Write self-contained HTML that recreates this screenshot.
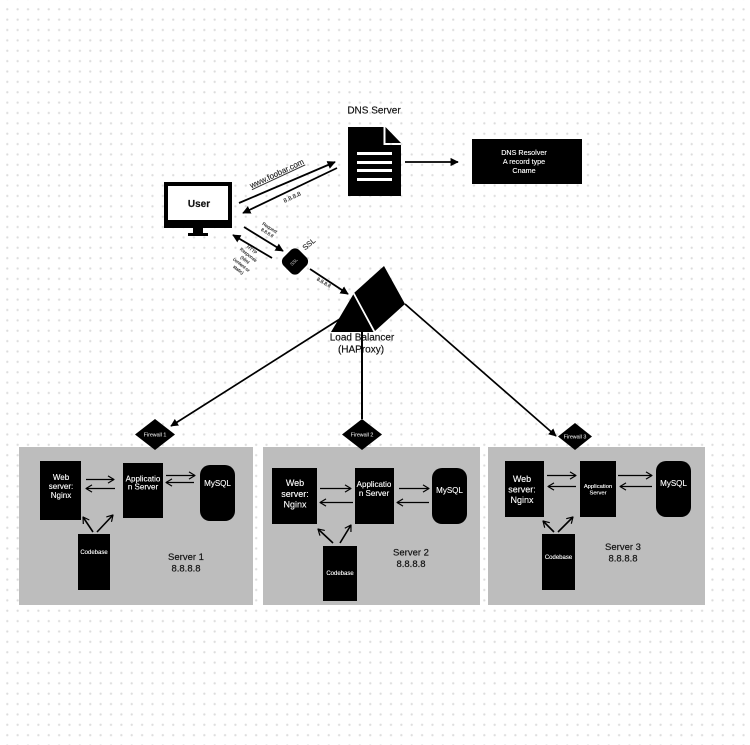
<!DOCTYPE html>
<html><head><meta charset="utf-8"><style>
html,body{margin:0;padding:0;background:#fff;width:750px;height:745px;overflow:hidden}
svg{display:block}
text{font-family:"Liberation Sans",sans-serif;text-anchor:middle}
g[fill="#111"],text[fill="#111"]{stroke:#111;stroke-width:.18}
g[fill="#222"],text[fill="#222"]{stroke:#222;stroke-width:.12}
g[fill="#fff"],text[fill="#fff"]{stroke:#fff;stroke-width:.12}
g[fill="#ddd"]{stroke:#ddd;stroke-width:.1}
</style></head><body>
<svg width="750" height="745" viewBox="0 0 750 745" xmlns="http://www.w3.org/2000/svg">
<defs>
<radialGradient id="g"><stop offset="0" stop-color="#d8d8d8"/><stop offset=".55" stop-color="#e2e2e2"/><stop offset="1" stop-color="#fff" stop-opacity="0"/></radialGradient>
<pattern id="d" x="2.1" y="4.1" width="10.37" height="10.37" patternUnits="userSpaceOnUse"><circle cx="5.18" cy="5.18" r="1.7" fill="url(#g)"/></pattern>
<marker id="a" viewBox="0 0 10 10" refX="9" refY="5" markerWidth="4.6" markerHeight="4.6" orient="auto-start-reverse"><path d="M0 0L10 5L0 10Z" fill="#000"/></marker>
<marker id="o" viewBox="0 0 10 10" refX="9.5" refY="5" markerWidth="8" markerHeight="8" orient="auto" markerUnits="userSpaceOnUse"><path d="M2 .5L9.500 5L2 9.500" fill="none" stroke="#000" stroke-width="1.500"/></marker>
</defs>
<rect width="750" height="745" fill="#fff"/><rect width="750" height="745" fill="url(#d)"/>

<rect x="19" y="447" width="234" height="158" fill="#bdbdbd"/>
<rect x="263" y="447" width="217" height="158" fill="#bdbdbd"/>
<rect x="488" y="447" width="217" height="158" fill="#bdbdbd"/>

<text x="374" y="113.500" font-size="10" fill="#111">DNS Server</text>
<path d="M348 127H383.500V145H401V196H348Z" fill="#000"/><path d="M385.500 127L401 143H385.500Z" fill="#000"/>
<rect x="357" y="152" width="35" height="3" fill="#fff"/><rect x="357" y="161" width="35" height="3" fill="#fff"/><rect x="357" y="169" width="35" height="3" fill="#fff"/><rect x="357" y="178" width="35" height="3" fill="#fff"/>
<rect x="472" y="139" width="110" height="45" fill="#000"/>
<g fill="#fff" font-size="7.200"><text x="524" y="155">DNS Resolver</text><text x="524" y="164">A record type</text><text x="524" y="173">Cname</text></g>
<line x1="405" y1="162" x2="458" y2="162" stroke="#000" stroke-width="1.800" marker-end="url(#a)"/>

<rect x="164" y="182" width="68" height="46" fill="#000"/><rect x="168" y="186" width="60" height="34" fill="#fff"/>
<rect x="193" y="228" width="10" height="5" fill="#000"/><rect x="188" y="233" width="20" height="3" fill="#000"/>
<text x="199" y="207" font-size="10" font-weight="bold" fill="#111">User</text>

<line x1="239" y1="203" x2="335" y2="162" stroke="#000" stroke-width="1.800" marker-end="url(#a)"/>
<line x1="337" y1="168" x2="243" y2="213" stroke="#000" stroke-width="1.800" marker-end="url(#a)"/>
<text transform="translate(278 176) rotate(-25)" font-size="8" fill="#222" text-decoration="underline">www.foobar.com</text>
<text transform="translate(293 199) rotate(-25)" font-size="6" fill="#222">8.8.8.8</text>

<line x1="244" y1="227" x2="283" y2="251" stroke="#000" stroke-width="1.800" marker-end="url(#a)"/>
<line x1="272" y1="258" x2="233" y2="235" stroke="#000" stroke-width="1.800" marker-end="url(#a)"/>
<g font-size="4.500" fill="#222">
<text transform="translate(269 229) rotate(32)">Request</text><text transform="translate(266.500 234) rotate(32)">8.8.8.8</text>
<text transform="translate(251 251) rotate(38)">HTTP</text><text transform="translate(247.500 256) rotate(38)">Response</text><text transform="translate(244 261) rotate(38)">(html</text><text transform="translate(240.500 266) rotate(38)">content or</text><text transform="translate(237.500 271) rotate(38)">static)</text>
</g>
<rect x="284" y="250.500" width="22" height="22" rx="6" transform="rotate(45 295 261.500)" fill="#000"/>
<text transform="translate(295 263) rotate(-45)" font-size="4.500" fill="#ddd">SSL</text>
<text transform="translate(310.500 246) rotate(-40)" font-size="7.500" fill="#222">SSL</text>
<line x1="310" y1="269" x2="348" y2="294" stroke="#000" stroke-width="1.800" marker-end="url(#a)"/>
<text transform="translate(323 284) rotate(30)" font-size="5" fill="#222">8.8.8.8</text>

<path d="M353.500 294L331 332H374Z" fill="#000"/>
<path d="M354 293L384 266L405 304L375 331Z" fill="#000"/>
<line x1="353.500" y1="293" x2="374.500" y2="332" stroke="#fff" stroke-width="1.800"/>
<line x1="343" y1="317" x2="171" y2="426" stroke="#000" stroke-width="1.700" marker-end="url(#a)"/>
<g font-size="10" fill="#111"><text x="362" y="340.500">Load Balancer</text><text x="361" y="352.500">(HAProxy)</text></g>
<line x1="362" y1="332" x2="362" y2="419" stroke="#000" stroke-width="2"/>
<line x1="405" y1="304" x2="556" y2="436" stroke="#000" stroke-width="1.700" marker-end="url(#a)"/>

<path d="M155 419L175 434.500L155 450L135 434.500Z" fill="#000"/>
<path d="M362 419L382 434.500L362 450L342 434.500Z" fill="#000"/>
<path d="M575 423L592 436.500L575 450L558 436.500Z" fill="#000"/>
<g font-size="5.300" fill="#ddd"><text x="155" y="436.500">Firewall 1</text><text x="362" y="436.500">Firewall 2</text><text x="575" y="438.500">Firewall 3</text></g>

<!-- Server 1 -->
<rect x="40" y="461" width="41" height="59" fill="#000"/><rect x="123" y="463" width="40" height="55" fill="#000"/><rect x="200" y="465" width="35" height="56" rx="10" fill="#000"/><rect x="78" y="534" width="32" height="56" fill="#000"/>
<g fill="#fff" font-size="8"><text x="61" y="480">Web</text><text x="61" y="489">server:</text><text x="61" y="498">Nginx</text><text x="143" y="481.500">Applicatio</text><text x="143" y="489.500">n Server</text><text x="217.500" y="486">MySQL</text></g>
<text x="94" y="554" font-size="6" fill="#fff">Codebase</text>
<g fill="#111" font-size="9.500"><text x="186" y="560">Server 1</text><text x="186" y="571.500">8.8.8.8</text></g>
<g stroke="#000" stroke-width="1.200" fill="none" marker-end="url(#o)"><line x1="86" y1="479.500" x2="114" y2="479.500"/><line x1="115" y1="488.500" x2="86" y2="488.500"/><line x1="166" y1="475.500" x2="195" y2="475.500"/><line x1="194" y1="482.500" x2="166" y2="482.500"/></g>
<g stroke="#000" stroke-width="1.600" fill="none" marker-end="url(#o)"><line x1="93" y1="532" x2="83" y2="517"/><line x1="97" y1="532" x2="113" y2="515"/></g>

<!-- Server 2 -->
<rect x="272" y="468" width="45" height="56" fill="#000"/><rect x="355" y="468" width="39" height="56" fill="#000"/><rect x="432" y="468" width="35" height="56" rx="10" fill="#000"/><rect x="323" y="546" width="34" height="55" fill="#000"/>
<g fill="#fff"><g font-size="9"><text x="295" y="486">Web</text><text x="295" y="497">server:</text><text x="295" y="507.500">Nginx</text></g><g font-size="8"><text x="374" y="487">Applicatio</text><text x="374" y="496">n Server</text><text x="449.500" y="493">MySQL</text></g><text x="340" y="575" font-size="6">Codebase</text></g>
<g fill="#111" font-size="9.500"><text x="411" y="555.500">Server 2</text><text x="411" y="567">8.8.8.8</text></g>
<g stroke="#000" stroke-width="1.200" fill="none" marker-end="url(#o)"><line x1="320" y1="488.500" x2="351" y2="488.500"/><line x1="353" y1="502.500" x2="320" y2="502.500"/><line x1="399" y1="488.500" x2="429" y2="488.500"/><line x1="429" y1="502.500" x2="397" y2="502.500"/></g>
<g stroke="#000" stroke-width="1.600" fill="none" marker-end="url(#o)"><line x1="333" y1="543" x2="318" y2="529"/><line x1="340" y1="543" x2="351" y2="525"/></g>

<!-- Server 3 -->
<rect x="505" y="461" width="39" height="56" fill="#000"/><rect x="580" y="461" width="36" height="56" fill="#000"/><rect x="656" y="461" width="35" height="56" rx="10" fill="#000"/><rect x="542" y="534" width="33" height="56" fill="#000"/>
<g fill="#fff"><g font-size="9"><text x="522" y="482">Web</text><text x="522" y="492.500">server:</text><text x="522" y="503">Nginx</text></g><g font-size="5.800"><text x="598" y="488">Application</text><text x="598" y="494.500">Server</text></g><text x="673.500" y="486" font-size="8">MySQL</text><text x="558.500" y="559" font-size="6">Codebase</text></g>
<g fill="#111" font-size="9.500"><text x="623" y="550">Server 3</text><text x="623" y="561.500">8.8.8.8</text></g>
<g stroke="#000" stroke-width="1.200" fill="none" marker-end="url(#o)"><line x1="547" y1="475.500" x2="576" y2="475.500"/><line x1="576" y1="486.500" x2="548" y2="486.500"/><line x1="618" y1="475.500" x2="652" y2="475.500"/><line x1="652" y1="486.500" x2="620" y2="486.500"/></g>
<g stroke="#000" stroke-width="1.600" fill="none" marker-end="url(#o)"><line x1="554" y1="532" x2="543" y2="521"/><line x1="558" y1="532" x2="573" y2="517"/></g>
</svg>
</body></html>
